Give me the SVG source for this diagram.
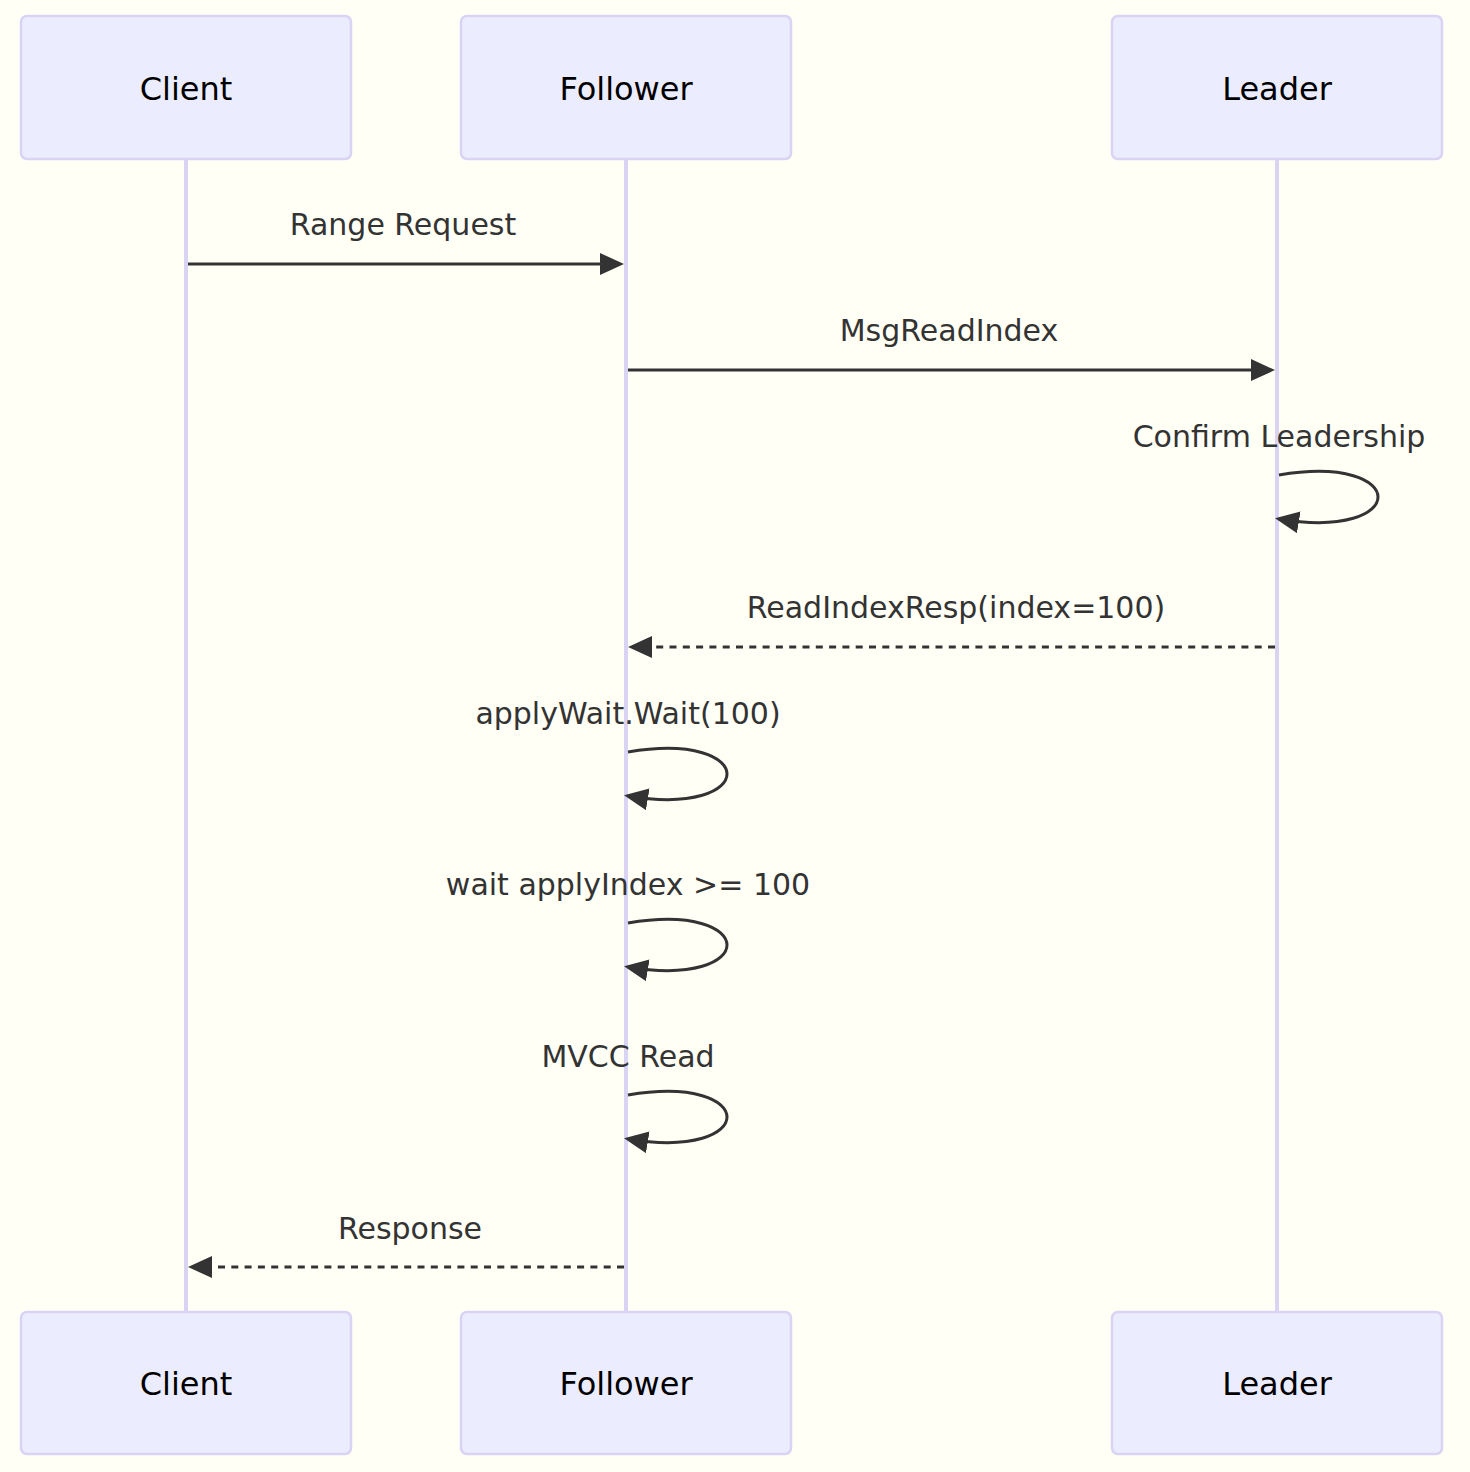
<svg xmlns="http://www.w3.org/2000/svg" width="1470" height="1472" viewBox="0 0 1470 1472">
<style>
.actor{fill:#ECECFF;stroke:#D9D3F4;stroke-width:2.5}
.atext{font-family:"DejaVu Sans",sans-serif;font-size:32px;fill:#000;text-anchor:middle}
.life{stroke:#D9D3F4;stroke-width:4;fill:none}
.msg{stroke:#333;stroke-width:3;fill:none}
.dash{stroke-dasharray:7,6.3}
.mtext{font-family:"DejaVu Sans",sans-serif;font-size:30px;fill:#333;text-anchor:middle}
</style>
<defs>
<marker id="arrow" markerUnits="userSpaceOnUse" viewBox="0 0 24 22" markerWidth="24" markerHeight="22" refX="20" refY="11" orient="auto">
<path d="M0,0 L24,11 L0,22 z" fill="#333"/>
</marker>
</defs>
<rect width="1470" height="1472" fill="#FFFFF6"/>
<g id="lifelines">
<line class="life" x1="186" y1="159" x2="186" y2="1312"/>
<line class="life" x1="626" y1="159" x2="626" y2="1312"/>
<line class="life" x1="1277" y1="159" x2="1277" y2="1312"/>
</g>
<g id="actor-client-top"><rect class="actor" x="21" y="16" width="330" height="143" rx="6"/><text class="atext" x="186" y="100">Client</text></g>
<g id="actor-follower-top"><rect class="actor" x="461" y="16" width="330" height="143" rx="6"/><text class="atext" x="626" y="100">Follower</text></g>
<g id="actor-leader-top"><rect class="actor" x="1112" y="16" width="330" height="143" rx="6"/><text class="atext" x="1277" y="100">Leader</text></g>
<g id="actor-client-bottom"><rect class="actor" x="21" y="1312" width="330" height="142" rx="6"/><text class="atext" x="186" y="1395">Client</text></g>
<g id="actor-follower-bottom"><rect class="actor" x="461" y="1312" width="330" height="142" rx="6"/><text class="atext" x="626" y="1395">Follower</text></g>
<g id="actor-leader-bottom"><rect class="actor" x="1112" y="1312" width="330" height="142" rx="6"/><text class="atext" x="1277" y="1395">Leader</text></g>
<g id="connectors">
<line class="msg" x1="188" y1="264" x2="620" y2="264" marker-end="url(#arrow)"/>
<line class="msg" x1="628" y1="370" x2="1271" y2="370" marker-end="url(#arrow)"/>
<path class="msg" d="M1279,475 C1411,453 1411,541 1279,519" marker-end="url(#arrow)"/>
<line class="msg dash" x1="1275" y1="647" x2="632" y2="647" marker-end="url(#arrow)"/>
<path class="msg" d="M628,752 C760,730 760,818 628,796" marker-end="url(#arrow)"/>
<path class="msg" d="M628,923 C760,901 760,989 628,967" marker-end="url(#arrow)"/>
<path class="msg" d="M628,1095 C760,1073 760,1161 628,1139" marker-end="url(#arrow)"/>
<line class="msg dash" x1="624" y1="1267" x2="192" y2="1267" marker-end="url(#arrow)"/>
</g>
<g id="labels">
<text class="mtext" x="403" y="235">Range Request</text>
<text class="mtext" x="949" y="341">MsgReadIndex</text>
<text class="mtext" x="1279" y="447">Confirm Leadership</text>
<text class="mtext" x="956" y="618">ReadIndexResp(index=100)</text>
<text class="mtext" x="628" y="724">applyWait.Wait(100)</text>
<text class="mtext" x="628" y="895">wait applyIndex &gt;= 100</text>
<text class="mtext" x="628" y="1067">MVCC Read</text>
<text class="mtext" x="410" y="1239">Response</text>
</g>
</svg>
